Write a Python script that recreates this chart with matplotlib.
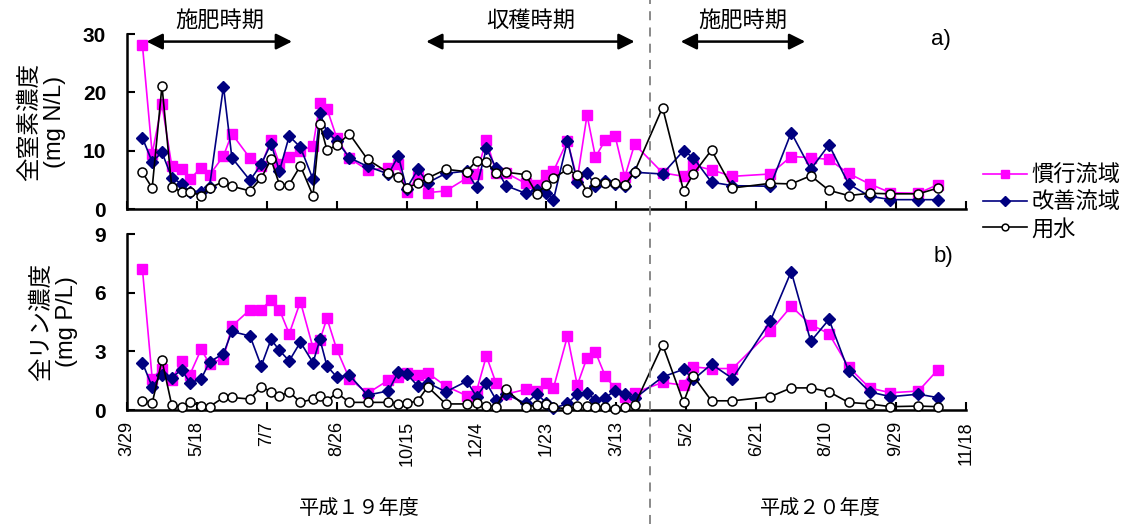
import matplotlib
matplotlib.use('Agg')
import matplotlib.pyplot as plt
import matplotlib.dates as mdates
import matplotlib.transforms as mtransforms
from matplotlib.lines import Line2D
import pandas as pd

plt.rcParams['font.family'] = ['Liberation Sans', 'Noto Sans CJK JP']

# 採水日（平成19年度〜平成20年度）
dates = pd.to_datetime([
    '2007-04-09', '2007-04-16', '2007-04-23', '2007-04-30', '2007-05-07', '2007-05-13',
    '2007-05-21', '2007-05-27', '2007-06-06', '2007-06-12', '2007-06-25', '2007-07-03',
    '2007-07-10', '2007-07-16', '2007-07-23', '2007-07-31', '2007-08-09', '2007-08-14',
    '2007-08-19', '2007-08-26', '2007-09-04', '2007-09-17', '2007-10-02', '2007-10-09',
    '2007-10-15', '2007-10-23', '2007-10-30', '2007-11-12', '2007-11-27', '2007-12-04',
    '2007-12-11', '2007-12-18', '2007-12-25', '2008-01-08', '2008-01-16', '2008-01-23',
    '2008-01-28', '2008-02-07', '2008-02-14', '2008-02-21', '2008-02-27', '2008-03-05',
    '2008-03-12', '2008-03-19', '2008-03-26',
    '2008-04-15', '2008-04-30', '2008-05-07', '2008-05-20', '2008-06-04', '2008-07-01',
    '2008-07-16', '2008-07-30', '2008-08-12', '2008-08-26', '2008-09-10', '2008-09-25',
    '2008-10-15', '2008-10-29',
])

# 全窒素濃度 (mg N/L)
kanko_n = [28.2, 9.5, 18.0, 7.4, 6.8, 5.1, 7.1, 5.8, 9.1, 12.9, 8.7, 7.4,
           11.9, 7.7, 9.0, 10.0, 10.8, 18.2, 17.2, 12.2, 8.7, 6.7, 7.0, 7.7,
           2.9, 5.6, 2.8, 3.1, 5.3, 6.0, 11.9, 6.2, 6.2, 4.4, 4.2, 5.8,
           6.5, 11.7, 5.1, 16.1, 8.9, 11.8, 12.6, 5.5, 11.1,
           6.2, 5.6, 7.5, 6.7, 5.6, 6.0, 9.0, 8.8, 8.5, 6.1, 4.3, 2.8, 2.7, 4.2]
kaizen_n = [12.2, 8.1, 9.7, 5.4, 4.3, 3.0, 3.0, 3.8, 21.0, 8.8, 4.9, 7.7,
            11.2, 6.5, 12.5, 10.6, 5.1, 16.5, 13.1, 11.7, 8.8, 7.3, 6.0, 9.1,
            3.5, 6.8, 4.5, 6.1, 6.5, 3.7, 10.4, 7.0, 4.0, 2.7, 3.3, 2.7,
            1.6, 11.7, 4.6, 6.2, 4.0, 4.8, 4.3, 4.0, 6.3,
            6.0, 10.0, 8.8, 4.6, 4.0, 3.9, 13.1, 6.8, 11.0, 4.3, 2.2, 1.6, 1.6, 1.6]
yosui_n = [6.3, 3.6, 21.1, 3.8, 2.9, 3.0, 2.3, 3.6, 4.7, 3.9, 3.1, 5.3,
           8.5, 4.2, 4.2, 7.4, 2.3, 14.6, 10.1, 10.9, 12.9, 8.5, 6.2, 5.5,
           3.6, 4.4, 5.3, 6.8, 6.4, 8.3, 8.1, 6.1, 6.3, 5.9, 2.6, 4.2,
           5.3, 6.8, 5.8, 3.0, 4.7, 4.5, 4.4, 4.1, 6.4,
           17.4, 3.1, 6.0, 10.1, 3.6, 4.4, 4.3, 5.7, 3.2, 2.3, 2.7, 2.6, 2.6, 3.6]

# 全リン濃度 (mg P/L)
kanko_p = [7.23, 1.61, 2.12, 1.53, 2.49, 1.81, 3.10, 2.37, 2.63, 4.29, 5.13, 5.13,
           5.64, 5.13, 3.90, 5.54, 3.19, 3.59, 4.69, 3.10, 1.61, 0.85, 1.53, 1.69,
           1.90, 1.80, 1.90, 1.22, 0.73, 0.97, 2.76, 1.36, 0.81, 1.05, 0.97, 1.39,
           1.13, 3.78, 1.27, 2.68, 2.96, 1.74, 1.10, 0.68, 0.88,
           1.41, 1.27, 2.20, 2.12, 2.12, 4.03, 5.30, 4.37, 3.90, 2.20, 1.13, 0.88, 0.97, 2.07]
kaizen_p = [2.42, 1.19, 1.81, 1.64, 2.07, 1.39, 1.58, 2.46, 2.88, 4.02, 3.78, 2.25,
            3.61, 3.05, 2.51, 3.47, 2.42, 3.61, 2.25, 1.69, 1.78, 0.76, 0.98, 1.95,
            1.85, 1.22, 1.39, 0.93, 1.47, 0.68, 1.39, 0.51, 0.81, 0.34, 0.81, 0.37,
            0.08, 0.34, 0.81, 0.88, 0.51, 0.63, 0.98, 0.81, 0.59,
            1.69, 2.08, 1.56, 2.34, 1.61, 4.54, 7.08, 3.51, 4.63, 2.00, 0.93, 0.68, 0.81, 0.63]
yosui_p = [0.47, 0.34, 2.54, 0.25, 0.17, 0.39, 0.22, 0.17, 0.64, 0.64, 0.56, 1.19,
           0.93, 0.71, 0.93, 0.39, 0.56, 0.71, 0.47, 0.88, 0.39, 0.39, 0.39, 0.31,
           0.34, 0.47, 1.19, 0.31, 0.31, 0.34, 0.22, 0.17, 1.05, 0.17, 0.25, 0.31,
           0.15, 0.05, 0.20, 0.20, 0.17, 0.17, 0.05, 0.17, 0.25,
           3.34, 0.39, 1.74, 0.47, 0.47, 0.68, 1.13, 1.13, 0.93, 0.39, 0.31, 0.17, 0.20, 0.17]

series_names = ['慣行流域', '改善流域', '用水']

# 時期の矢印 (開始, 終了, ラベル)
periods = [('2007-04-12', '2007-07-25', '施肥時期'),
           ('2007-10-29', '2008-03-26', '収穫時期'),
           ('2008-04-28', '2008-07-26', '施肥時期')]
fy_boundary = '2008-04-06'
fy_labels = [('2007-09-11', '平成１９年度'), ('2008-08-06', '平成２０年度')]

x_start, x_end = pd.Timestamp('2007-03-29'), pd.Timestamp('2008-11-18')
xticks = pd.date_range(x_start, periods=13, freq='50D')

styles = [dict(color='#FF00FF', marker='s', markersize=7, mfc='#FF00FF', mec='#FF00FF'),
          dict(color='#000080', marker='D', markersize=6.5, mfc='#000080', mec='#000080'),
          dict(color='black', marker='o', markersize=6.5, mfc='white', mec='black', mew=1.1)]

fig = plt.figure(figsize=(11.3, 5.24), dpi=100)
ax1 = fig.add_axes([127 / 1130, 1 - 209 / 524, 839 / 1130, 175 / 524])
ax2 = fig.add_axes([127 / 1130, 1 - 410 / 524, 839 / 1130, 176 / 524])


def draw_panel(ax, values, ymax, yticks, ylabel, tag, tag_pos):
    for vals, st, name in zip(values, styles, series_names):
        ax.plot(dates, vals, lw=1.2, label=name, clip_on=False, zorder=3, **st)
    ax.set_xlim(x_start, x_end)
    ax.set_ylim(0, ymax)
    ax.set_yticks(yticks)
    ax.set_xticks(xticks)
    for s in ['top', 'right']:
        ax.spines[s].set_visible(False)
    for s in ['left', 'bottom']:
        ax.spines[s].set_linewidth(1.8)
    ax.tick_params(direction='in', length=6, width=1.5)
    ax.tick_params(axis='y', labelsize=15, pad=15)
    for t in ax.get_yticklabels():
        t.set_fontweight('bold')
    ax.set_ylabel(ylabel, fontsize=17, labelpad=12, linespacing=1.15)
    ax.text(tag_pos[0], tag_pos[1], tag, transform=ax.transAxes, fontsize=16,
            ha='center', va='center')


draw_panel(ax1, [kanko_n, kaizen_n, yosui_n], 30, [0, 10, 20, 30],
           '全窒素濃度\n(mg N/L)', 'a)', (0.97, 0.97))
draw_panel(ax2, [kanko_p, kaizen_p, yosui_p], 9, [0, 3, 6, 9],
           '全リン濃度\n(mg P/L)', 'b)', (0.973, 0.87))
ax1.tick_params(axis='x', labelbottom=False)
ax2.tick_params(axis='x', pad=8)
ax2.set_xticklabels([f'{d.month}/{d.day}' for d in xticks], rotation=90, fontsize=13)

# 時期の矢印
for start, end, label in periods:
    d0, d1 = pd.Timestamp(start), pd.Timestamp(end)
    ax1.annotate('', xy=(d0, 28.7), xytext=(d1, 28.7), annotation_clip=False,
                 arrowprops=dict(arrowstyle='<|-|>,head_length=0.6,head_width=0.3',
                                 color='black', lw=1.8, mutation_scale=16,
                                 shrinkA=0, shrinkB=0))
    ax1.text(d0 + (d1 - d0) / 2, 32.1, label, ha='center', va='center', fontsize=16)

# 年度の境界線
blend = mtransforms.blended_transform_factory(ax1.transData, fig.transFigure)
xb = mdates.date2num(pd.Timestamp(fy_boundary))
fig.add_artist(Line2D([xb, xb], [0, 1], transform=blend, color='#808080',
                      lw=1.3, ls=(0, (5, 4))))
for d, label in fy_labels:
    fig.text(mdates.date2num(pd.Timestamp(d)), 0.03, label, transform=blend,
             ha='center', va='center', fontsize=14.5)

handles, labels = ax1.get_legend_handles_labels()
fig.legend(handles, labels, loc='center left', bbox_to_anchor=(0.852, 1 - 203 / 524),
           frameon=False, fontsize=16, handlelength=2.0, handletextpad=0.2,
           labelspacing=0.25, markerscale=0.75)

fig.savefig('out.png', dpi=100)
